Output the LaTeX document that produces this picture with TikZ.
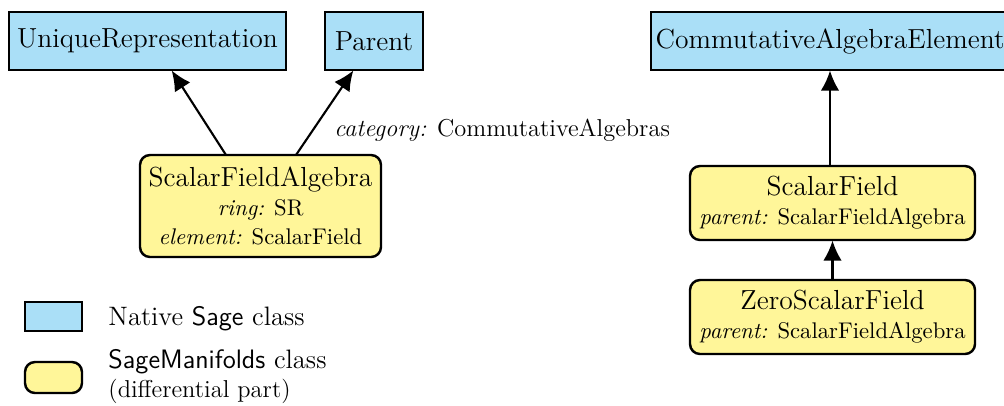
\documentclass[tikz,border=0pt]{standalone}
\usetikzlibrary{arrows.meta}
\definecolor{nativeblue}{RGB}{170,223,247}
\definecolor{smyellow}{RGB}{255,246,153}
\newcommand{\bigf}{\fontsize{12.4}{14.5}\selectfont}
\newcommand{\legf}{\fontsize{12}{14}\selectfont}
\newcommand{\smf}{\fontsize{10.2}{12.2}\selectfont}
\newcommand{\catf}{\fontsize{11}{13}\selectfont}
\begin{document}
\begin{tikzpicture}[x=0.45pt,y=-0.45pt,
  native/.style={draw=black, line width=1.1pt, fill=nativeblue, inner sep=0pt, font=\bigf},
  smclass/.style={draw=black, line width=1.1pt, fill=smyellow, rounded corners=4.5pt, inner sep=0pt, align=center},
  inherit/.style={line width=0.95pt, -{Latex[length=9pt,width=8.3pt]}, shorten >=-0.3pt},
  lbl/.style={inner sep=0pt}]
\useasboundingbox (0,0) rectangle (1004,405);
% native classes
\node[native, minimum width=277*0.45pt, minimum height=58*0.45pt] (unique) at (147.5,41) {UniqueRepresentation};
\node[native, minimum width=98*0.45pt, minimum height=58*0.45pt] (parent) at (374,41) {Parent};
\node[native, minimum width=358*0.45pt, minimum height=58*0.45pt] (cae) at (830,41) {CommutativeAlgebraElement};
% SageManifolds classes
\node[smclass, minimum width=241*0.45pt, minimum height=102*0.45pt] (sfa) at (260.5,206)
  {{\bigf ScalarFieldAlgebra}\\[1pt] {\smf\textit{ring:} SR}\\[1pt] {\smf\textit{element:} ScalarField}};
\node[smclass, minimum width=285*0.45pt, minimum height=74*0.45pt] (sf) at (832.5,203)
  {{\bigf ScalarField}\\[1pt] {\smf\textit{parent:} ScalarFieldAlgebra}};
\node[smclass, minimum width=285*0.45pt, minimum height=74*0.45pt] (zsf) at (832.5,317)
  {{\bigf ZeroScalarField}\\[1pt] {\smf\textit{parent:} ScalarFieldAlgebra}};
% connector end points
\coordinate (sfaL) at (226,155);
\coordinate (sfaR) at (296,155);
\coordinate (uniqueB) at (172,71);
\coordinate (parentB) at (353,71);
\draw[inherit] (sfaL) -- (uniqueB);
\draw[inherit] (sfaR) -- (parentB);
\draw[inherit] (sf.north -| cae.south) -- (cae.south);
\draw[inherit] (zsf.north) -- (sf.south);
\node[lbl, anchor=west, font=\catf] (cat) at (334,130) {\textit{category:} CommutativeAlgebras};
% legend
\node[native, minimum width=57*0.45pt, minimum height=29*0.45pt] (legn) at (53.5,316.5) {};
\node[smclass, minimum width=57*0.45pt, minimum height=31*0.45pt] (legs) at (53.5,377.5) {};
\node[lbl, anchor=base west, font=\legf] (legntxt) at (108,325) {Native \textsf{Sage} class};
\node[lbl, anchor=base west, font=\legf] (legstxt1) at (108,368) {\textsf{SageManifolds} class};
\node[lbl, anchor=base west, font=\catf] (legstxt2) at (108,397) {(differential part)};
\end{tikzpicture}
\end{document}
